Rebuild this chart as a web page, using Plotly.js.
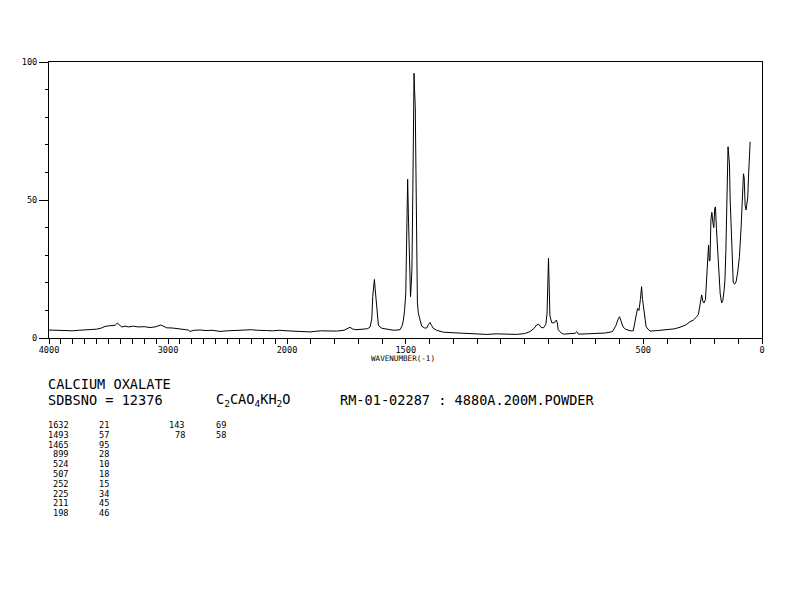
<!DOCTYPE html>
<html>
<head>
<meta charset="utf-8">
<script src="https://cdn.plot.ly/plotly-3.0.1.min.js"></script>
<style>
  html, body { margin: 0; padding: 0; background: #fff; }
  #plot { width: 794px; height: 595px; }
</style>
</head>
<body>
<div id="plot"></div>
<script>
// spectrum, 4000-2000 part (half scale)
const hiWave = [4000, 3950, 3900, 3850, 3800, 3750, 3700, 3650, 3600, 3560, 3530, 3500, 3470, 3445, 3426, 3410, 3389, 3360, 3330, 3292, 3250, 3200, 3151, 3110, 3080, 3062, 3040, 3011, 2960, 2899, 2860, 2830, 2815, 2780, 2731, 2680, 2630, 2563, 2500, 2451, 2400, 2339, 2300, 2250, 2200, 2171, 2120, 2060, 2000]
const hiInt = [2.9, 2.8, 2.6, 2.7, 2.6, 2.8, 2.9, 3.0, 3.2, 3.6, 4.2, 4.4, 4.4, 4.6, 5.4, 4.8, 4.0, 4.3, 4.0, 4.3, 4.0, 4.1, 3.8, 4.0, 4.4, 4.7, 4.3, 3.7, 3.6, 3.3, 3.3, 2.9, 2.4, 2.8, 2.9, 2.7, 2.8, 2.4, 2.6, 2.7, 2.9, 3.1, 3.0, 2.8, 2.9, 2.7, 2.6, 2.8, 2.6]

// spectrum, 2000-0 part
const loWave = [2000, 1950, 1903, 1860, 1819, 1791, 1760, 1745, 1735, 1725, 1710, 1680, 1660, 1650, 1643, 1639, 1634, 1632, 1629, 1625, 1620, 1615, 1600, 1579, 1550, 1524, 1515, 1510, 1505, 1500, 1497, 1494, 1492, 1489, 1486, 1483, 1480, 1477, 1474, 1470, 1467, 1465, 1463, 1460, 1457, 1455, 1451, 1447, 1440, 1433, 1420, 1412, 1405, 1398, 1391, 1384, 1370, 1342, 1300, 1258, 1220, 1180, 1159, 1120, 1080, 1033, 1000, 977, 960, 949, 940, 930, 920, 910, 905, 901, 899, 897, 893, 885, 875, 866, 862, 858, 845, 836, 810, 787, 780, 773, 740, 696, 660, 630, 615, 605, 600, 595, 585, 575, 555, 542, 533, 528, 524, 518, 512, 507, 503, 500, 495, 488, 480, 471, 440, 401, 370, 345, 320, 303, 289, 275, 268, 261, 254, 248, 244, 238, 234, 228, 225, 222, 219, 215, 211, 207, 203, 199, 196, 192, 188, 182, 176, 170, 165, 160, 156, 152, 149, 146, 143, 140, 137, 134, 130, 126, 121, 115, 109, 102, 95, 88, 84, 81, 78, 75, 71, 67, 63, 60, 57, 55, 52, 50]
const loInt = [2.6, 2.4, 2.2, 2.6, 2.5, 2.5, 2.8, 3.4, 3.9, 3.3, 3.0, 3.2, 3.4, 4.0, 7, 15, 20.5, 21.2, 18, 14, 7, 4.5, 3.5, 3.1, 2.8, 3.0, 4.5, 6.5, 10, 16, 40, 56, 57.5, 45, 30, 18, 15, 19, 25, 55, 80, 95.9, 90, 83.8, 50, 25, 13, 9, 6, 4.3, 3.6, 3.6, 4.8, 5.6, 4.5, 3.5, 2.8, 2.1, 1.9, 1.7, 1.6, 1.4, 1.3, 1.5, 1.3, 1.3, 1.6, 2.3, 3.5, 4.7, 5.0, 3.8, 3.7, 5.0, 9, 22, 28.9, 22, 8, 5.5, 5.5, 6.5, 5.5, 3, 1.8, 1.4, 1.5, 1.7, 2.3, 1.4, 1.5, 1.6, 1.8, 2.3, 4.5, 7.0, 7.7, 6.5, 4, 3.2, 2.6, 2.6, 6, 9, 10.7, 10, 14, 18.6, 14, 12, 7, 4.1, 3.2, 2.5, 2.7, 2.9, 3.3, 3.9, 4.8, 5.9, 6.5, 7.7, 8.5, 12, 15.6, 13, 12.7, 14, 20, 33, 33.7, 28, 28, 43, 45.5, 42, 40, 47, 47.5, 40, 33, 23, 16, 12.7, 13.5, 17, 21, 32, 44, 58, 69.3, 66, 63, 50, 39, 28, 20, 19.5, 20.4, 24, 29.5, 40, 48, 53, 59.5, 58, 48, 46.4, 49, 51, 58, 63, 68, 71.1]

// peak table printed under the chart
const peakWave = [1632, 1493, 1465, 899, 524, 507, 252, 225, 211, 198, 143, 78]
const peakInt = [21, 57, 95, 28, 10, 18, 15, 34, 45, 46, 69, 58]

// axis labels
const hiLabels = [4000, 3000, 2000]
const loLabels = [1500, 500, 0]

const titleLines = ['CALCIUM OXALATE', 'SDBSNO = 12376']
const formula = 'C<sub>2</sub>CAO<sub>4</sub>KH<sub>2</sub>O'
const sampleInfo = 'RM-01-02287 : 4880A.200M.POWDER'

const mono = 'DejaVu Sans Mono, Liberation Mono, monospace'

// plot frame in pixels: left 49, right 762, top 62, bottom 338
const L = 49, R = 762, T = 62, B = 338
const split = (287 - L) / (R - L)
function px(x) { return (x - L) / (R - L) }
function py(y) { return (B - y) / (B - T) }

// ticks every 100 cm-1, text only where the original prints a number
function tickSet(from, to, labels) {
  let vals = [], text = []
  for (let v = from; v <= to; v += 100) {
    vals.push(v)
    text.push(labels.indexOf(v) >= 0 ? String(v) : ' ')
  }
  return { tickvals: vals, ticktext: text }
}

const traces = [
  { x: hiWave, y: hiInt, xaxis: 'x', yaxis: 'y', type: 'scatter', mode: 'lines',
    line: { color: '#000', width: 1 }, hoverinfo: 'skip' },
  { x: loWave, y: loInt, xaxis: 'x2', yaxis: 'y2', type: 'scatter', mode: 'lines',
    line: { color: '#000', width: 1 }, hoverinfo: 'skip' }
]

let annotations = []
function txt(text, x, y, size, anchor) {
  annotations.push({ text: text, xref: 'paper', yref: 'paper', x: px(x), y: py(y),
    xanchor: anchor || 'left', yanchor: 'middle', showarrow: false,
    font: { family: mono, size: size, color: '#000' } })
}

txt(titleLines[0], 46, 384, 13.6)
txt(titleLines[1], 46, 400, 13.6)
txt(formula, 214, 400, 13.6)
txt(sampleInfo, 338, 400, 13.6)
txt('WAVENUMBER(-1)', 403, 358, 7.6, 'center')

for (let i = 0; i < peakWave.length; i++) {
  let col = i < 10 ? 0 : 1
  let row = i < 10 ? i : i - 10
  let y = 425 + row * 9.8
  txt(String(peakWave[i]), col ? 187 : 71, y, 8.6, 'right')
  txt(String(peakInt[i]), col ? 228 : 111, y, 8.6, 'right')
}

const axisBase = {
  showline: true, linecolor: '#000', linewidth: 1, showgrid: false, zeroline: false,
  ticks: 'outside', tickcolor: '#000', tickwidth: 1,
  tickfont: { family: mono, size: 8.6, color: '#000' }, fixedrange: true
}

const layout = {
  width: 794, height: 595,
  margin: { l: L, r: 794 - R, t: T, b: 595 - B, pad: 0 },
  paper_bgcolor: '#fff', plot_bgcolor: '#fff',
  showlegend: false,
  xaxis: Object.assign({}, axisBase, tickSet(2000, 4000, hiLabels), {
    domain: [0, split], range: [4000, 2000], anchor: 'y', mirror: true,
    tickmode: 'array', tickangle: 0, ticklen: 5, ticklabelstandoff: -1
  }),
  xaxis2: Object.assign({}, axisBase, tickSet(0, 1900, loLabels), {
    domain: [split, 1], range: [2000, 0], anchor: 'y2', mirror: true,
    tickmode: 'array', tickangle: 0, ticklen: 5, ticklabelstandoff: -1
  }),
  yaxis: Object.assign({}, axisBase, {
    range: [0, 100], anchor: 'x',
    tickmode: 'array', tickvals: [0, 50, 100], ticktext: ['0', '50', '100'],
    ticklen: 9,
    minor: { tickmode: 'linear', tick0: 0, dtick: 10, ticks: 'outside', ticklen: 3, tickcolor: '#000', showgrid: false }
  }),
  yaxis2: Object.assign({}, axisBase, {
    range: [0, 100], anchor: 'x2', matches: 'y', side: 'right',
    ticks: '', showticklabels: false
  }),
  annotations: annotations
}

Plotly.newPlot('plot', traces, layout, { staticPlot: true, displayModeBar: false })
</script>
</body>
</html>
